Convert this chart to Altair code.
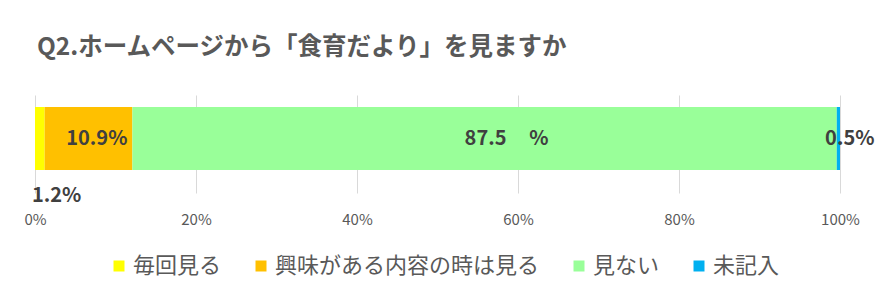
import altair as alt
import pandas as pd

# Survey answers and their shares (%)
categories = ["毎回見る", "興味がある内容の時は見る", "見ない", "未記入"]
values = [1.2, 10.9, 87.5, 0.5]
colors = ["#FFFF00", "#FFC000", "#99FF99", "#00B0F0"]
tick_values = [0, 20, 40, 60, 80, 100]
title_text = "Q2.ホームページから「食育だより」を見ますか"

starts, ends, acc = [], [], 0.0
for v in values:
    starts.append(acc)
    acc = round(acc + v, 2)
    ends.append(acc)

df = pd.DataFrame({
    "row": ["Q2"] * len(values),
    "cat": categories,
    "value": values,
    "start": starts,
    "end": ends,
    "order": list(range(len(values))),
})

FONT = "Noto Sans CJK JP"
xscale = alt.Scale(domain=[0, 100], clamp=True, nice=False)
yenc = alt.Y("row:N", axis=None,
             scale=alt.Scale(paddingInner=0, paddingOuter=0.278, align=0.343))

base = alt.Chart(df)

bars = base.mark_bar().encode(
    x=alt.X("start:Q", scale=xscale, title=None,
            axis=alt.Axis(values=tick_values, labelExpr="datum.value + '%'",
                          grid=True, gridColor="#D9D9D9", domain=False,
                          ticks=False, labelFontSize=15, labelColor="#595959",
                          labelFont=FONT, labelPadding=19, labelFlush=False)),
    x2="end:Q",
    y=yenc,
    color=alt.Color("cat:N", scale=alt.Scale(domain=categories, range=colors),
                    legend=alt.Legend(title=None, orient="none", direction="horizontal",
                                      legendX=73, legendY=160,
                                      symbolType="square", symbolSize=121,
                                      symbolStrokeWidth=0, labelOffset=3,
                                      labelFontSize=22, labelFont=FONT,
                                      labelColor="#595959", columnPadding=28,
                                      labelLimit=400)),
    order="order:Q",
)

lab = base.transform_calculate(label="datum.value + '%'")
label_style = dict(fontSize=20, fontWeight="bold", color="#404040", font=FONT)

t_orange = lab.transform_filter(alt.datum.order == 1).mark_text(
    align="right", dx=-5, **label_style
).encode(x=alt.X("end:Q", scale=xscale), y=yenc, text="label:N")

t_green = base.transform_filter(alt.datum.order == 2).transform_calculate(
    label="datum.value + '\u00a0\u00a0\u00a0\u00a0\u00a0%'",
    mid="(datum.start + datum.end) / 2",
).mark_text(
    align="left", dx=-20, **label_style
).encode(x=alt.X("mid:Q", scale=xscale), y=yenc, text="label:N")

t_blue = lab.transform_filter(alt.datum.order == 3).mark_text(
    align="center", dx=13, **label_style
).encode(x=alt.X("start:Q", scale=xscale), y=yenc, text="label:N")

t_yellow = lab.transform_filter(alt.datum.order == 0).mark_text(
    align="left", dx=-3, dy=57, **label_style
).encode(x=alt.X("start:Q", scale=xscale), y=yenc, text="label:N")

chart = alt.layer(bars, t_orange, t_green, t_blue, t_yellow).properties(
    width=805,
    height=98,
    title=alt.TitleParams(title_text, anchor="start", frame="group", fontSize=24.5,
                          fontWeight="bold", color="#595959", font=FONT,
                          offset=35, dx=2),
    autosize=alt.AutoSizeParams(type="none"),
    padding={"left": 35, "top": 95, "right": 56, "bottom": 102},
).configure_view(stroke=None)

chart.save("out.html", embed_options={"renderer": "svg", "actions": False})
